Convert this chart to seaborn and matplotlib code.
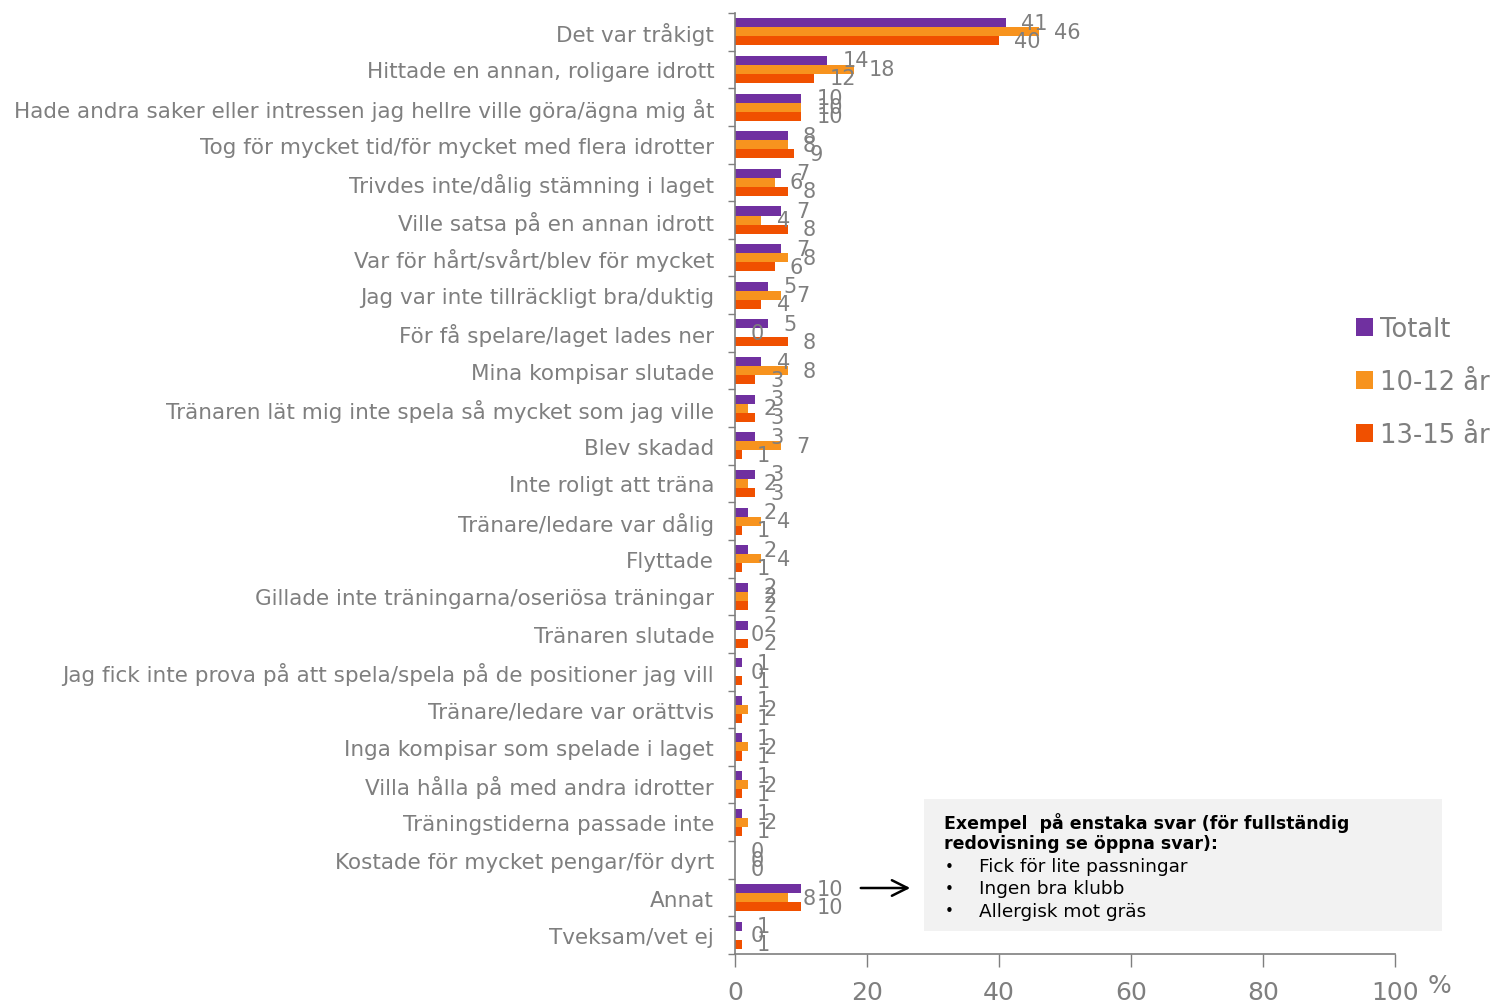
import numpy as np
import pandas as pd
import seaborn as sns
import matplotlib.pyplot as plt
from matplotlib.patches import Patch, Rectangle, FancyArrowPatch

# Data (percent)
kategorier = [
    "Det var tråkigt",
    "Hittade en annan, roligare idrott",
    "Hade andra saker eller intressen jag hellre ville göra/ägna mig åt",
    "Tog för mycket tid/för mycket med flera idrotter",
    "Trivdes inte/dålig stämning i laget",
    "Ville satsa på en annan idrott",
    "Var för hårt/svårt/blev för mycket",
    "Jag var inte tillräckligt bra/duktig",
    "För få spelare/laget lades ner",
    "Mina kompisar slutade",
    "Tränaren lät mig inte spela så mycket som jag ville",
    "Blev skadad",
    "Inte roligt att träna",
    "Tränare/ledare var dålig",
    "Flyttade",
    "Gillade inte träningarna/oseriösa träningar",
    "Tränaren slutade",
    "Jag fick inte prova på att spela/spela på de positioner jag vill",
    "Tränare/ledare var orättvis",
    "Inga kompisar som spelade i laget",
    "Villa hålla på med andra idrotter",
    "Träningstiderna passade inte",
    "Kostade för mycket pengar/för dyrt",
    "Annat",
    "Tveksam/vet ej",
]
totalt = [41, 14, 10, 8, 7, 7, 7, 5, 5, 4, 3, 3, 3, 2, 2, 2, 2, 1, 1, 1, 1, 1, 0, 10, 1]
ar_10_12 = [46, 18, 10, 8, 6, 4, 8, 7, 0, 8, 2, 7, 2, 4, 4, 2, 0, 0, 2, 2, 2, 2, 0, 8, 0]
ar_13_15 = [40, 12, 10, 9, 8, 8, 6, 4, 8, 3, 3, 1, 3, 1, 1, 2, 2, 1, 1, 1, 1, 1, 0, 10, 1]
grupper = ["Totalt", "10-12 år", "13-15 år"]
farger = ["#7030A0", "#F7931E", "#F05000"]
exempel = ["Fick för lite passningar", "Ingen bra klubb", "Allergisk mot gräs"]

df = pd.DataFrame({"kategori": kategorier, "Totalt": totalt,
                   "10-12 år": ar_10_12, "13-15 år": ar_13_15})
df_long = df.melt(id_vars="kategori", var_name="grupp", value_name="procent")

sns.set_theme(style="white")
plt.rcParams["font.family"] = ["DejaVu Sans"]
gra = "#7F7F7F"

W, H = 1497, 1003
fig = plt.figure(figsize=(W / 100, H / 100), dpi=100)
ax = fig.add_axes([735 / W, 1 - 955 / H, (1395 - 735) / W, (955 - 14) / H])

sns.barplot(data=df_long, y="kategori", x="procent", hue="grupp",
            hue_order=grupper, palette=farger, saturation=1, orient="h", width=0.72,
            order=kategorier, legend=False, ax=ax, linewidth=0)

for cont in ax.containers:
    ax.bar_label(cont, padding=11, fontsize=15, color=gra)

ax.set_xlim(0, 100)
ax.set_ylim(len(kategorier) - 0.5, -0.5)
ax.set_xticks([0, 20, 40, 60, 80, 100])
ax.set_xlabel("")
ax.set_ylabel("")
ax.set_yticks(np.arange(-0.5, len(kategorier), 1), minor=True)
ax.tick_params(axis="y", which="major", length=0, labelsize=15.5, labelcolor=gra, pad=15)
ax.tick_params(axis="y", which="minor", length=5, color=gra, width=1)
ax.tick_params(axis="x", length=9, color=gra, width=1, labelsize=18, labelcolor=gra, pad=10)
ax.tick_params(left=True, bottom=True, which="both")
for s in ["top", "right"]:
    ax.spines[s].set_visible(False)
for s in ["left", "bottom"]:
    ax.spines[s].set_color(gra)
    ax.spines[s].set_linewidth(1.2)

fig.text(1428 / W, 1 - 986 / H, "%", fontsize=18, color=gra, ha="left", va="center")

# legend
handles = [Patch(facecolor=c, edgecolor="none", label=g) for g, c in zip(grupper, farger)]
fig.legend(handles=handles, loc="center left", bbox_to_anchor=(1356 / W, 1 - 383 / H),
           frameon=False, fontsize=18.5, labelcolor=gra, handlelength=0.65,
           handleheight=0.65, handletextpad=0.3, labelspacing=1.05, borderpad=0,
           borderaxespad=0)

# exempel-ruta
fig.add_artist(Rectangle((924 / W, 1 - 932 / H), (1442 - 924) / W, 132 / H,
                         transform=fig.transFigure, facecolor="#F2F2F2", edgecolor="none"))
fig.text(944 / W, 1 - 833 / H, "Exempel  på enstaka svar (för fullständig\nredovisning se öppna svar):",
         fontsize=12.5, fontweight="bold", color="black", ha="left", va="center", linespacing=1.1)
for i, t in enumerate(exempel):
    y = 1 - (867 + i * 22.5) / H
    fig.text(945 / W, y, "•", fontsize=11, color="black", ha="left", va="center")
    fig.text(979 / W, y, t, fontsize=13.3, color="black", ha="left", va="center")

fig.add_artist(FancyArrowPatch((858 / W, 1 - 889 / H), (913 / W, 1 - 889 / H),
                               transform=fig.transFigure, arrowstyle="->",
                               mutation_scale=28, color="black", linewidth=1.8))

fig.savefig("out.png", dpi=100)
